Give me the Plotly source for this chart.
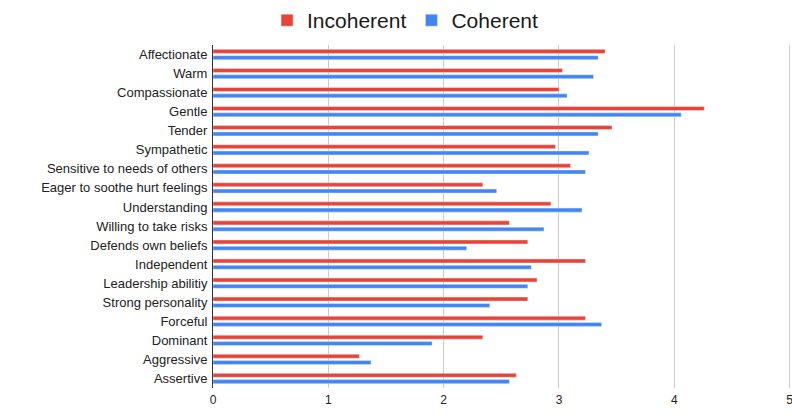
import plotly.graph_objects as go

categories = ["Affectionate", "Warm", "Compassionate", "Gentle", "Tender", "Sympathetic",
              "Sensitive to needs of others", "Eager to soothe hurt feelings", "Understanding",
              "Willing to take risks", "Defends own beliefs", "Independent", "Leadership abilitiy",
              "Strong personality", "Forceful", "Dominant", "Aggressive", "Assertive"]
incoherent = [3.40, 3.03, 3.00, 4.26, 3.46, 2.97, 3.10, 2.34, 2.93, 2.57, 2.73, 3.23, 2.81,
              2.73, 3.23, 2.34, 1.27, 2.63]
coherent = [3.34, 3.30, 3.07, 4.06, 3.34, 3.26, 3.23, 2.46, 3.20, 2.87, 2.20, 2.76, 2.73,
            2.40, 3.37, 1.90, 1.37, 2.57]
x_ticks = [0, 1, 2, 3, 4, 5]

fig = go.Figure()
fig.add_trace(go.Bar(y=categories, x=incoherent, name="Incoherent", orientation="h",
                     marker=dict(color="#EA4335")))
fig.add_trace(go.Bar(y=categories, x=coherent, name="Coherent", orientation="h",
                     marker=dict(color="#4285F4")))

fig.update_layout(
    width=792, height=417,
    margin=dict(l=213, r=1, t=45, b=29, autoexpand=False),
    paper_bgcolor="white", plot_bgcolor="white",
    barmode="group", bargap=0.34, bargroupgap=0.36,
    font=dict(family="Liberation Sans, Arial, sans-serif", color="#222222", size=13),
    legend=dict(orientation="h", xref="container", x=0.5114, xanchor="center",
                yref="paper", y=1.131, yanchor="top",
                font=dict(size=21, color="#1a1a1a"), itemwidth=30, tracegroupgap=0),
    xaxis=dict(range=[0, 5.012], tickvals=x_ticks, showgrid=True, gridcolor="#cccccc",
               gridwidth=1, zeroline=False, showline=False, tickfont=dict(size=12),
               ticks="", automargin=False, ticklabelstandoff=3, ticklabeloverflow="allow"),
    yaxis=dict(autorange="reversed", showgrid=False, showline=True, linecolor="#333333",
               linewidth=1, ticks="", ticklabelstandoff=2, tickfont=dict(size=13),
               automargin=False),
)

fig.write_html("out.html", config={"displayModeBar": False},
               post_script="document.body.style.margin='0';document.body.style.overflow='hidden';")
